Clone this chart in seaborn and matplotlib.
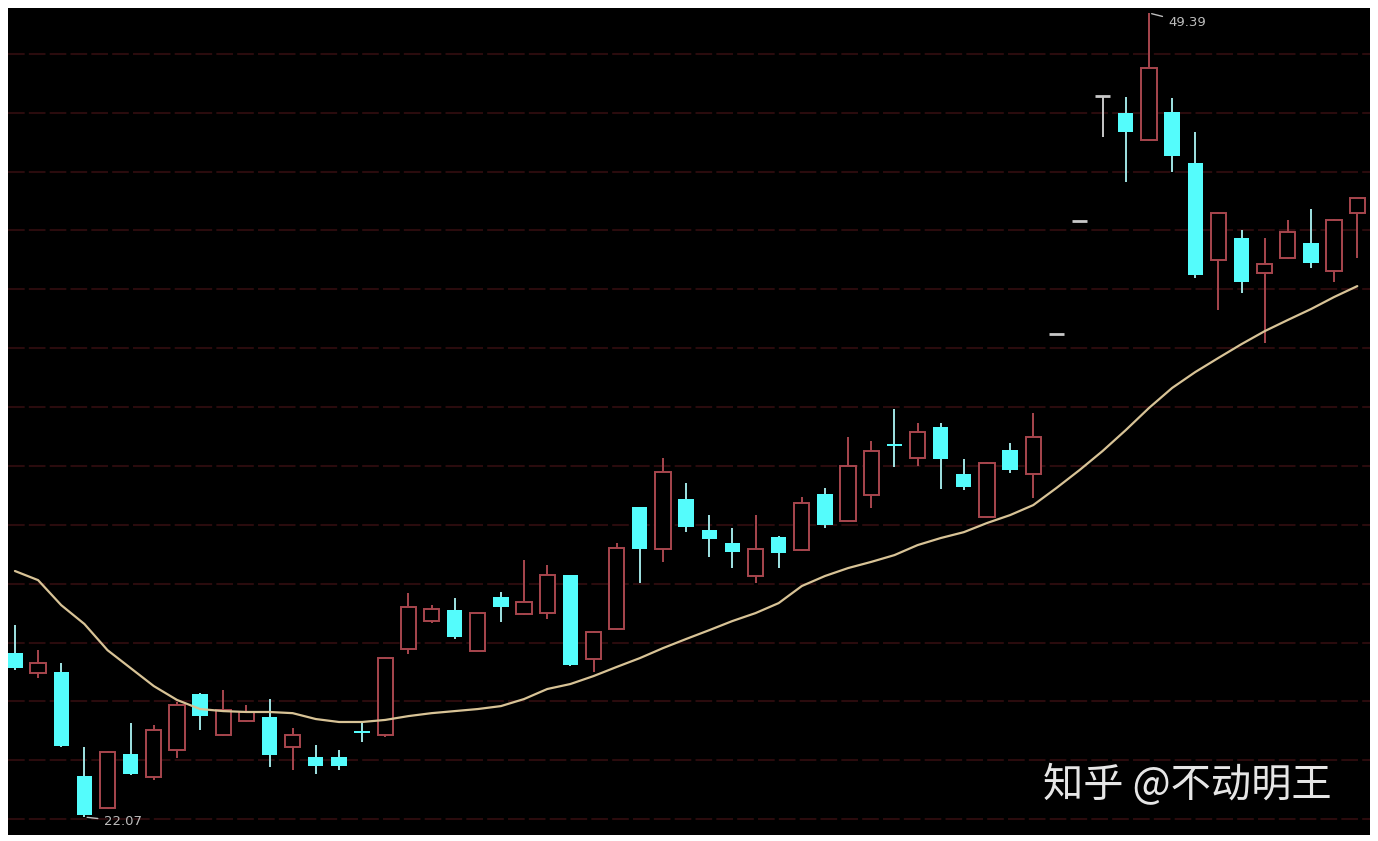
import numpy as np
import pandas as pd
import matplotlib
matplotlib.use('Agg')
import matplotlib.pyplot as plt
import seaborn as sns

# K线数据
opens = [27.64, 26.96, 27.00, 23.46, 22.38, 24.21, 23.43, 24.35, 26.25, 24.86,
         25.33, 25.47, 24.45, 24.11, 24.11, 24.99, 24.86, 27.78, 28.73, 29.10,
         27.71, 29.55, 28.97, 29.00, 30.29, 27.44, 28.46, 32.60, 31.18, 32.88,
         31.82, 31.38, 30.26, 31.58, 31.14, 33.05, 32.13, 33.01, 34.71, 34.27,
         35.32, 33.73, 32.26, 34.54, 33.73, 38.48, 42.33, 46.56, 45.99, 45.07,
         46.03, 44.29, 41.00, 41.74, 40.56, 41.06, 41.57, 40.62, 42.59]
closes = [27.13, 27.30, 24.48, 22.14, 24.28, 23.53, 25.03, 25.88, 25.50, 25.71,
          25.64, 24.18, 24.86, 23.80, 23.80, 24.92, 27.47, 29.21, 29.14, 28.19,
          29.00, 29.21, 29.38, 30.29, 27.24, 28.36, 31.21, 31.18, 33.79, 31.92,
          31.52, 31.07, 31.18, 31.04, 32.74, 31.99, 34.00, 34.51, 34.68, 35.15,
          34.23, 33.28, 34.10, 33.86, 34.98, 38.48, 42.33, 46.56, 45.35, 47.52,
          44.53, 40.49, 42.59, 40.25, 40.86, 41.95, 40.90, 42.36, 43.10]
highs = [28.59, 27.75, 27.30, 24.45, 24.30, 25.26, 25.20, 25.98, 26.27, 26.39,
         25.88, 26.08, 25.09, 24.52, 24.35, 25.26, 27.50, 29.68, 29.27, 29.51,
         29.00, 29.72, 30.80, 30.63, 30.31, 28.38, 31.38, 32.62, 34.27, 33.42,
         32.33, 31.89, 32.33, 31.61, 32.94, 33.25, 34.98, 34.85, 35.93, 35.46,
         35.46, 34.23, 34.12, 34.78, 35.80, 38.48, 42.33, 46.56, 46.54, 49.39,
         46.50, 45.35, 42.62, 42.02, 41.74, 42.36, 42.73, 42.38, 43.12]
lows = [27.07, 26.79, 24.45, 22.07, 22.35, 23.50, 23.33, 24.07, 25.03, 24.84,
        25.30, 23.77, 23.67, 23.53, 23.67, 24.62, 24.79, 27.61, 28.66, 28.12,
        27.71, 28.70, 28.94, 28.80, 27.21, 27.00, 28.43, 30.02, 30.73, 31.75,
        30.91, 30.53, 30.02, 30.53, 31.12, 31.89, 32.11, 32.57, 33.96, 34.00,
        33.22, 33.18, 32.24, 33.76, 32.91, 38.48, 42.33, 45.18, 43.65, 45.05,
        43.99, 40.39, 39.30, 39.88, 38.18, 41.04, 40.72, 40.25, 41.06]
# 均线
ma = [30.43, 30.12, 29.27, 28.63, 27.74, 27.13, 26.52, 26.05, 25.74, 25.67,
      25.64, 25.64, 25.60, 25.40, 25.30, 25.30, 25.37, 25.50, 25.60, 25.67,
      25.74, 25.84, 26.08, 26.42, 26.59, 26.86, 27.17, 27.47, 27.81, 28.12,
      28.42, 28.73, 29.00, 29.34, 29.92, 30.26, 30.53, 30.74, 30.97, 31.31,
      31.55, 31.75, 32.06, 32.33, 32.67, 33.25, 33.86, 34.51, 35.22, 35.97,
      36.65, 37.19, 37.67, 38.14, 38.58, 38.96, 39.33, 39.74, 40.11]
grid_levels = list(range(22, 50, 2))
watermark = '知乎 @不动明王'

sns.set_theme(style='dark')
plt.rcParams['font.family'] = ['Noto Sans CJK SC', 'DejaVu Sans']

df = pd.DataFrame({'day': np.arange(len(opens)), 'open': opens, 'close': closes,
                   'high': highs, 'low': lows, 'ma': ma})
df['top'] = df[['open', 'close']].max(axis=1)
df['bot'] = df[['open', 'close']].min(axis=1)

RED = '#a8464e'
CYAN = '#54fcfc'
CYAN_WICK = '#a0e4e4'
FLAT = '#c8c8c8'
W = 0.66

fig = plt.figure(figsize=(13.78, 8.41), dpi=100)
fig.patch.set_facecolor('white')
ax = fig.add_axes([8/1378, 6/841, 1362/1378, 827/841])
ax.set_facecolor('black')

up = df[df.close > df.open]
down = df[df.close < df.open]
flat = df[df.close == df.open]

# 影线
for part, col in [(up, RED), (down, CYAN_WICK), (flat, FLAT)]:
    ax.vlines(part.day, part.low, part.bot, color=col, lw=1.4, zorder=2)
    ax.vlines(part.day, part.top, part.high, color=col, lw=1.4, zorder=2)

# 实体
ax.bar(up.day, up.close - up.open, bottom=up.open, width=W, facecolor='black',
       edgecolor=RED, lw=1.4, zorder=3)
ax.bar(down.day, (down.open - down.close).clip(lower=0.08), bottom=down.close,
       width=W, color=CYAN, lw=0, zorder=3)
ax.hlines(flat.close, flat.day - W / 2, flat.day + W / 2, color=FLAT, lw=2, zorder=3)

sns.lineplot(data=df, x='day', y='ma', color='#d8c396', lw=1.6, ax=ax, zorder=4)

# 最高/最低价标注
imax = df.high.idxmax()
imin = df.low.idxmin()
ax.annotate(f'{df.high[imax]:.2f}', xy=(imax, df.high[imax]), xytext=(14, -7),
            textcoords='offset points', color='#bdbdbd', fontsize=9.5,
            family='DejaVu Sans', va='center',
            arrowprops=dict(arrowstyle='-', color='#bdbdbd', lw=1))
ax.annotate(f'{df.low[imin]:.2f}', xy=(imin, df.low[imin]), xytext=(14, -3),
            textcoords='offset points', color='#bdbdbd', fontsize=9.5,
            family='DejaVu Sans', va='center',
            arrowprops=dict(arrowstyle='-', color='#bdbdbd', lw=1))

ax.set_xlim(-0.30, 58.55)
ax.set_ylim(21.46, 49.56)
ax.set_yticks(grid_levels)
ax.grid(axis='y', color='#2a0b0d', ls=(0, (8, 2)), lw=1.5)
ax.grid(axis='x', visible=False)
ax.set_xticks([])
ax.tick_params(left=False, labelleft=False)
ax.set_xlabel('')
ax.set_ylabel('')
for s in ax.spines.values():
    s.set_visible(False)

fig.text(1043/1378, 1 - 785/841, watermark, color='#e6e6e6', fontsize=29,
         ha='left', va='center')

fig.savefig('out.png', dpi=100, facecolor='white')
